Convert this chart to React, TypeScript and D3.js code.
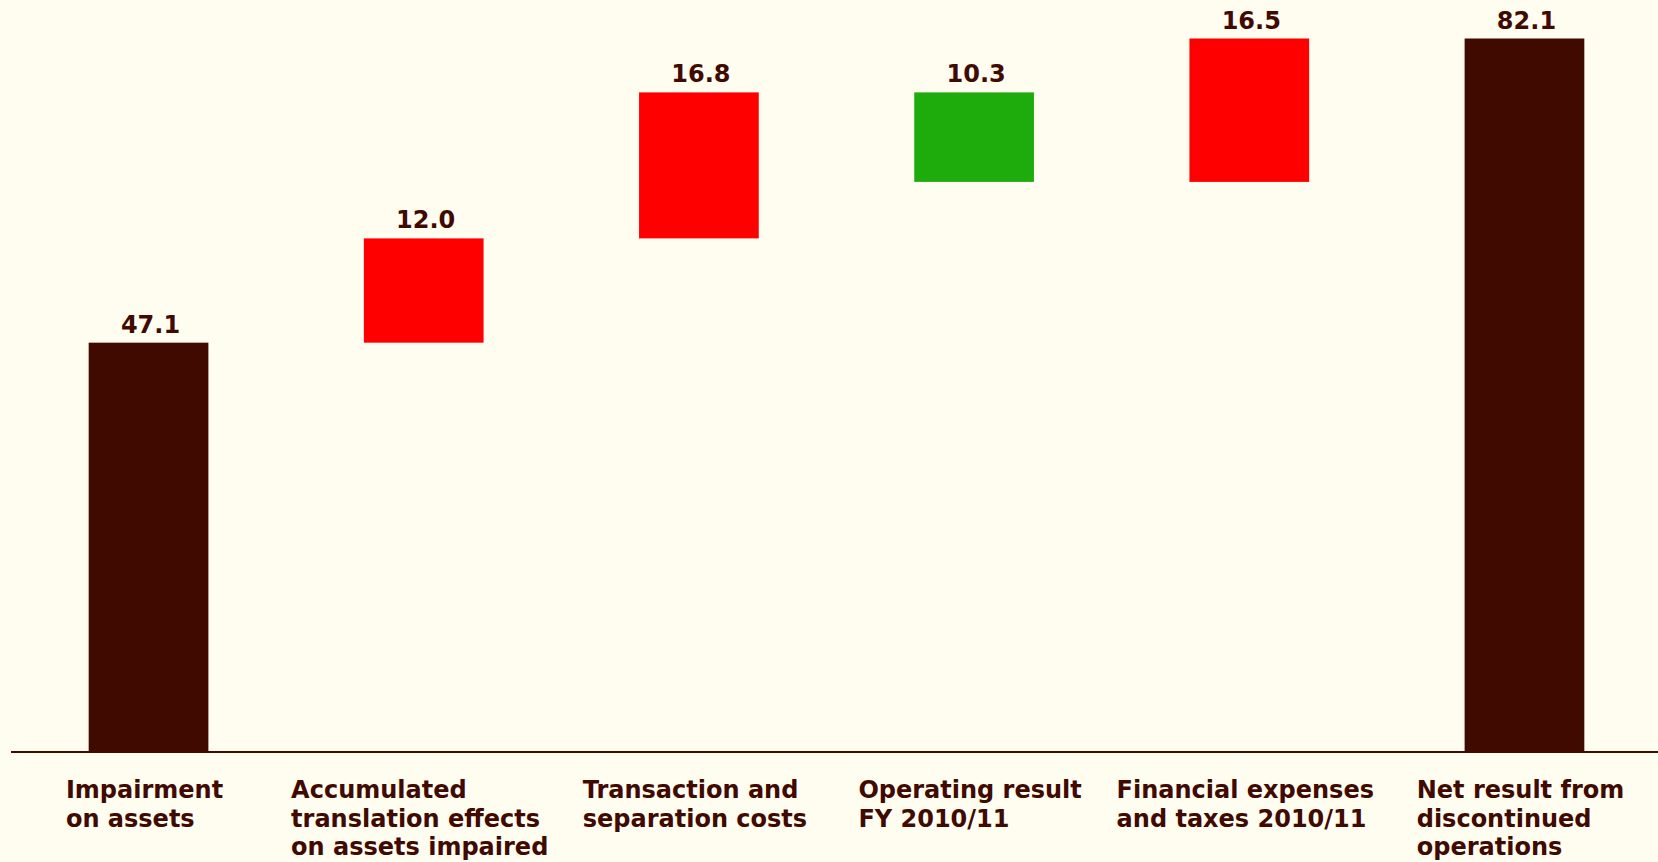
import React, { useEffect, useRef } from "react";
import * as d3 from "d3";

const categories = [
  "Impairment on assets",
  "Accumulated translation effects on assets impaired",
  "Transaction and separation costs",
  "Operating result FY 2010/11",
  "Financial expenses and taxes 2010/11",
  "Net result from discontinued operations",
];
const labelLines = [
  ["Impairment", "on assets"],
  ["Accumulated", "translation effects", "on assets impaired"],
  ["Transaction and", "separation costs"],
  ["Operating result", "FY 2010/11"],
  ["Financial expenses", "and taxes 2010/11"],
  ["Net result from", "discontinued", "operations"],
];
const values = [47.1, 12.0, 16.8, -10.3, 16.5, 82.1];
const kinds = ["total", "delta", "delta", "delta", "delta", "total"];

const width = 1658;
const height = 862;
const baseY = 752;
const ink = "#400a00";

const App = () => {
  const ref = useRef<SVGSVGElement>(null);

  useEffect(() => {
    document.body.style.margin = "0";

    // running totals for the waterfall
    let run = 0;
    const rows = values.map((v, i) => {
      let start, end;
      if (kinds[i] === "total") {
        start = 0;
        end = v;
        run = v;
      } else {
        start = run;
        end = run + v;
        run = end;
      }
      return { cat: categories[i], v, start, end, kind: kinds[i], lines: labelLines[i] };
    });

    const x = d3
      .scaleBand()
      .domain(categories)
      .range([13, width + 2])
      .paddingInner(0.565)
      .paddingOuter(0.275);
    const y = d3.scaleLinear().domain([0, 82.1]).range([baseY, 38.5]);

    const svg = d3.select(ref.current);
    svg.selectAll("*").remove();

    svg.append("rect").attr("width", width).attr("height", height).attr("fill", "#fffcf0");

    svg
      .append("line")
      .attr("x1", 11)
      .attr("x2", width)
      .attr("y1", baseY)
      .attr("y2", baseY)
      .attr("stroke", ink)
      .attr("stroke-width", 2);

    const color = (d) =>
      d.kind === "total" ? ink : d.v > 0 ? "#ff0000" : "#1eab0c";

    svg
      .selectAll("rect.bar")
      .data(rows)
      .enter()
      .append("rect")
      .attr("class", "bar")
      .attr("x", (d) => x(d.cat))
      .attr("width", x.bandwidth())
      .attr("y", (d) => y(Math.max(d.start, d.end)))
      .attr("height", (d) => Math.abs(y(d.start) - y(d.end)))
      .attr("fill", color);

    svg
      .selectAll("text.val")
      .data(rows)
      .enter()
      .append("text")
      .attr("class", "val")
      .attr("x", (d) => x(d.cat) + x.bandwidth() / 2 + 2)
      .attr("y", (d) => y(Math.max(d.start, d.end)) - 10)
      .attr("text-anchor", "middle")
      .style("font-family", "'DejaVu Sans', Verdana, sans-serif")
      .style("font-weight", "bold")
      .style("font-size", "24px")
      .style("fill", ink)
      .text((d) => Math.abs(d.v).toFixed(1));

    // category labels: left-aligned lines, block centred under the bar
    rows.forEach((d) => {
      const g = svg.append("g");
      const t = g
        .append("text")
        .style("font-family", "'DejaVu Sans', Verdana, sans-serif")
        .style("font-weight", "bold")
        .style("font-size", "24px")
        .style("fill", ink);
      d.lines.forEach((line, j) => {
        t.append("tspan").attr("x", 0).attr("y", 798 + j * 28.5).text(line);
      });
      const w = (t.node() as SVGTextElement).getBBox().width;
      const cx = x(d.cat) + x.bandwidth() / 2 - 4;
      g.attr("transform", `translate(${cx - w / 2},0)`);
    });
  }, []);

  return (
    <svg
      ref={ref}
      width={width}
      height={height}
      style={{ display: "block", position: "absolute", left: 0, top: 0 }}
    />
  );
};

export default App;
